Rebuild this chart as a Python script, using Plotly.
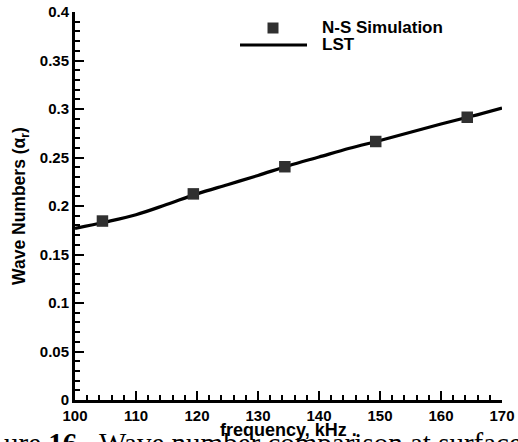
import plotly.graph_objects as go

# Data
ns_freq = [104.5, 119.4, 134.4, 149.3, 164.3]
ns_alpha = [0.1845, 0.2125, 0.2405, 0.2665, 0.2915]

lst_freq = [100, 105, 110, 115, 120, 125, 130, 135, 140, 145, 150, 155, 160, 165, 170]
lst_alpha = [0.177, 0.1835, 0.191, 0.2015, 0.2125, 0.222, 0.2315, 0.2415, 0.2505, 0.2595, 0.2675, 0.276, 0.2845, 0.2925, 0.301]

x_ticks = [100, 110, 120, 130, 140, 150, 160, 170]
y_ticks = [0, 0.05, 0.1, 0.15, 0.2, 0.25, 0.3, 0.35, 0.4]
y_tick_text = ["0", "0.05", "0.1", "0.15", "0.2", "0.25", "0.3", "0.35", "0.4"]

caption = "ure <b>16.</b>&nbsp;&nbsp;Wave number comparison at surface"

FONT = "Liberation Sans"
L, R, T, B = 75, 16, 12, 42
W, H = 518, 442
PW, PH = W - L - R, H - T - B

def px(xp):
    return (xp - L) / PW

def py(yp):
    return (H - B - yp) / PH

fig = go.Figure()
fig.add_trace(go.Scatter(x=lst_freq, y=lst_alpha, mode="lines", line=dict(color="black", width=3.2, shape="spline"),
                         name="LST", showlegend=False))
fig.add_trace(go.Scatter(x=ns_freq, y=ns_alpha, mode="markers",
                         marker=dict(symbol="square", size=11.5, color="#303030"),
                         name="N-S Simulation", showlegend=False))

# Manual legend (paper coords)
fig.add_shape(type="rect", xref="paper", yref="paper", x0=px(267.5), x1=px(278.5), y0=py(33.5), y1=py(22.5),
              fillcolor="#303030", line=dict(width=0))
fig.add_shape(type="line", xref="paper", yref="paper", x0=px(240), x1=px(307), y0=py(45), y1=py(45),
              line=dict(color="black", width=3.2))
fig.add_annotation(xref="paper", yref="paper", x=px(320), y=py(28), xanchor="left", yanchor="middle",
                   text="<b>N-S Simulation</b>", showarrow=False, font=dict(family=FONT, size=17, color="black"))
fig.add_annotation(xref="paper", yref="paper", x=px(320), y=py(44), xanchor="left", yanchor="middle",
                   text="<b>LST</b>", showarrow=False, font=dict(family=FONT, size=17, color="black"))

# Caption fragment (cut off at the bottom/right of the image)
fig.add_annotation(xref="paper", yref="paper", x=px(2), y=py(425), xanchor="left", yanchor="top",
                   text=caption, showarrow=False,
                   font=dict(family="Liberation Serif", size=29, color="black"))

# X axis title as annotation (sits close to tick labels, overlapping caption top)
fig.add_annotation(xref="paper", yref="paper", x=px(288), y=py(418), xanchor="center", yanchor="top",
                   text="<b>frequency, kHz .</b>", showarrow=False,
                   font=dict(family=FONT, size=18, color="black"), bgcolor="rgba(0,0,0,0)")

fig.update_layout(
    width=W, height=H,
    margin=dict(l=L, r=R, t=T, b=B),
    paper_bgcolor="white", plot_bgcolor="white",
    font=dict(family=FONT, size=15, color="black"),
    xaxis=dict(
        range=[100, 170], tickvals=x_ticks, ticktext=[f"<b>{v}</b>" for v in x_ticks],
        ticks="inside", ticklen=9, tickwidth=2, tickcolor="black",
        showline=True, linecolor="black", linewidth=3, showgrid=False, zeroline=False,
        minor=dict(dtick=2, tick0=100, ticks="inside", ticklen=5, tickwidth=1.5, tickcolor="black", showgrid=False),
        tickfont=dict(size=15), automargin=False,
    ),
    yaxis=dict(
        range=[0, 0.4], tickvals=y_ticks, ticktext=[f"<b>{t}</b>" for t in y_tick_text],
        ticks="inside", ticklen=9, tickwidth=2, tickcolor="black",
        showline=True, linecolor="black", linewidth=3, showgrid=False, zeroline=False,
        minor=dict(dtick=0.01, tick0=0, ticks="inside", ticklen=5, tickwidth=1.5, tickcolor="black", showgrid=False),
        title=dict(text="<b>Wave Numbers (α<sub>r</sub>)</b>", font=dict(size=17.5), standoff=10),
        tickfont=dict(size=15), automargin=False,
    ),
)

fig.write_html("out.html")
